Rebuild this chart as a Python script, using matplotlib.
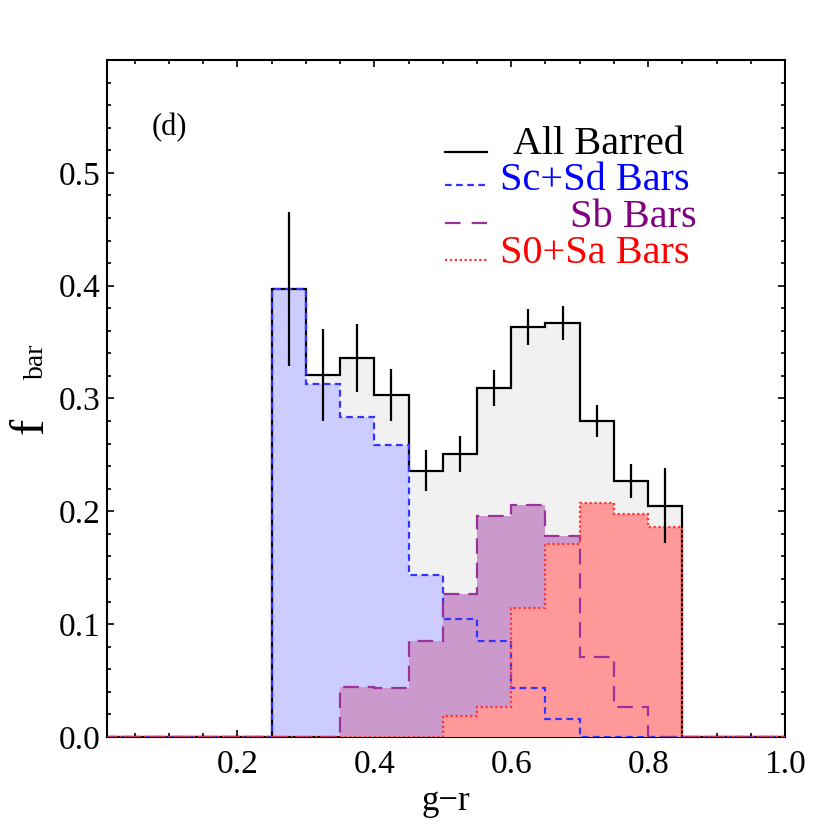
import numpy as np
import matplotlib
matplotlib.use("Agg")
import matplotlib.pyplot as plt
from matplotlib.ticker import MultipleLocator

plt.rcParams['font.family'] = ['Liberation Serif', 'DejaVu Serif']

# bin edges in g-r (0.05 wide, 0 to 1)
edges = np.round(np.arange(0, 1.0001, 0.05), 2)

# fraction of barred galaxies per bin
all_barred = [0, 0, 0, 0, 0, 0.397, 0.321, 0.336, 0.303, 0.236, 0.251, 0.309,
              0.363, 0.367, 0.280, 0.227, 0.205, 0, 0, 0]
all_err = [0, 0, 0, 0, 0, 0.068, 0.041, 0.030, 0.023, 0.018, 0.016, 0.016,
           0.016, 0.015, 0.014, 0.015, 0.033, 0, 0, 0]
scsd = [0, 0, 0, 0, 0, 0.397, 0.313, 0.284, 0.259, 0.144, 0.105, 0.085,
        0.043, 0.016, 0, 0, 0, 0, 0, 0]
sb = [0, 0, 0, 0, 0, 0, 0, 0.044, 0.043, 0.085, 0.127, 0.196,
      0.206, 0.178, 0.071, 0.027, 0, 0, 0, 0]
s0sa = [0, 0, 0, 0, 0, 0, 0, 0, 0, 0, 0.019, 0.027,
        0.114, 0.171, 0.207, 0.198, 0.186, 0, 0, 0]

labels = ["All Barred", "Sc+Sd Bars", "Sb Bars", "S0+Sa Bars"]

fig = plt.figure(figsize=(8.34, 8.34), dpi=100)
ax = fig.add_axes([0.1287, 0.1163, 0.8126, 0.8118])

# fills
ax.stairs(all_barred, edges, fill=True, color='#f1f1f1', zorder=1)
ax.stairs(scsd, edges, fill=True, color='#ccccff', zorder=2)
ax.stairs(sb, edges, fill=True, color='#cc99cc', zorder=3)
ax.stairs(s0sa, edges, fill=True, color='#ff9999', zorder=4)

# outlines
ax.stairs(all_barred, edges, baseline=0, color='black', lw=1.6, zorder=5)
ax.stairs(scsd, edges, baseline=0, color='#3333ff', lw=1.6, ls=(0, (3, 2)), zorder=6)
ax.stairs(sb, edges, baseline=0, color='#993399', lw=1.6, ls=(0, (7, 4)), zorder=7)
ax.stairs(s0sa, edges, baseline=0, color='#ff3333', lw=1.6, ls=(0, (1, 1.2)), zorder=8)

# error bars
centers = (edges[:-1] + edges[1:]) / 2
a = np.array(all_barred)
e = np.array(all_err)
m = a > 0
ax.errorbar(centers[m], a[m], yerr=e[m], fmt='none', ecolor='black', elinewidth=1.6, zorder=9)

ax.set_xlim(0.01, 1.0)
ax.set_ylim(0, 0.6)
ax.xaxis.set_minor_locator(MultipleLocator(0.05))
ax.yaxis.set_minor_locator(MultipleLocator(0.02))
ax.set_xticks([0.2, 0.4, 0.6, 0.8, 1.0])
ax.set_xticklabels(['0.2', '0.4', '0.6', '0.8', '1.0'])
ax.set_yticks([0.0, 0.1, 0.2, 0.3, 0.4, 0.5])
ax.set_yticklabels(['0.0', '0.1', '0.2', '0.3', '0.4', '0.5'])
ax.tick_params(which='both', direction='in', top=True, right=True, labelsize=24, width=1.2)
ax.tick_params(axis='x', which='major', length=5, pad=9)
ax.tick_params(axis='y', which='major', length=5, pad=5)
ax.tick_params(which='minor', length=3)
for s in ax.spines.values():
    s.set_linewidth(1.5)

# axis labels
ax.text(0.5, -0.095, 'g\u2212r', transform=ax.transAxes, ha='center', va='center', fontsize=25)
ax.text(-0.095, 0.46, 'f', transform=ax.transAxes, rotation=90, rotation_mode='anchor',
        ha='center', va='baseline', fontsize=35)
ax.text(-0.095, 0.555, 'bar', transform=ax.transAxes, rotation=90, rotation_mode='anchor',
        ha='center', va='baseline', fontsize=20)

ax.text(0.091, 0.9, '(d)', transform=ax.transAxes, ha='center', va='center', fontsize=22)

# legend drawn by hand
hx = [0.498, 0.560]
leg_y = [0.864, 0.815, 0.759, 0.705]
txt_y = [0.861, 0.808, 0.753, 0.700]
txt_x = [0.599, 0.579, 0.683, 0.579]
colors = ['black', '#0000ff', '#800080', '#ff0000']
lcolors = ['black', '#3333ff', '#993399', '#ff3333']
styles = ['-', (0, (3, 2)), (0, (7, 5)), (0, (1, 1.2))]
for lab, ly, ty, tx, c, lc, st in zip(labels, leg_y, txt_y, txt_x, colors, lcolors, styles):
    ax.plot(hx, [ly, ly], transform=ax.transAxes, color=lc, ls=st, lw=1.6, clip_on=False)
    ax.text(tx, ty, lab, transform=ax.transAxes, ha='left', va='baseline', fontsize=29, color=c)

fig.savefig('out.png', dpi=100)
